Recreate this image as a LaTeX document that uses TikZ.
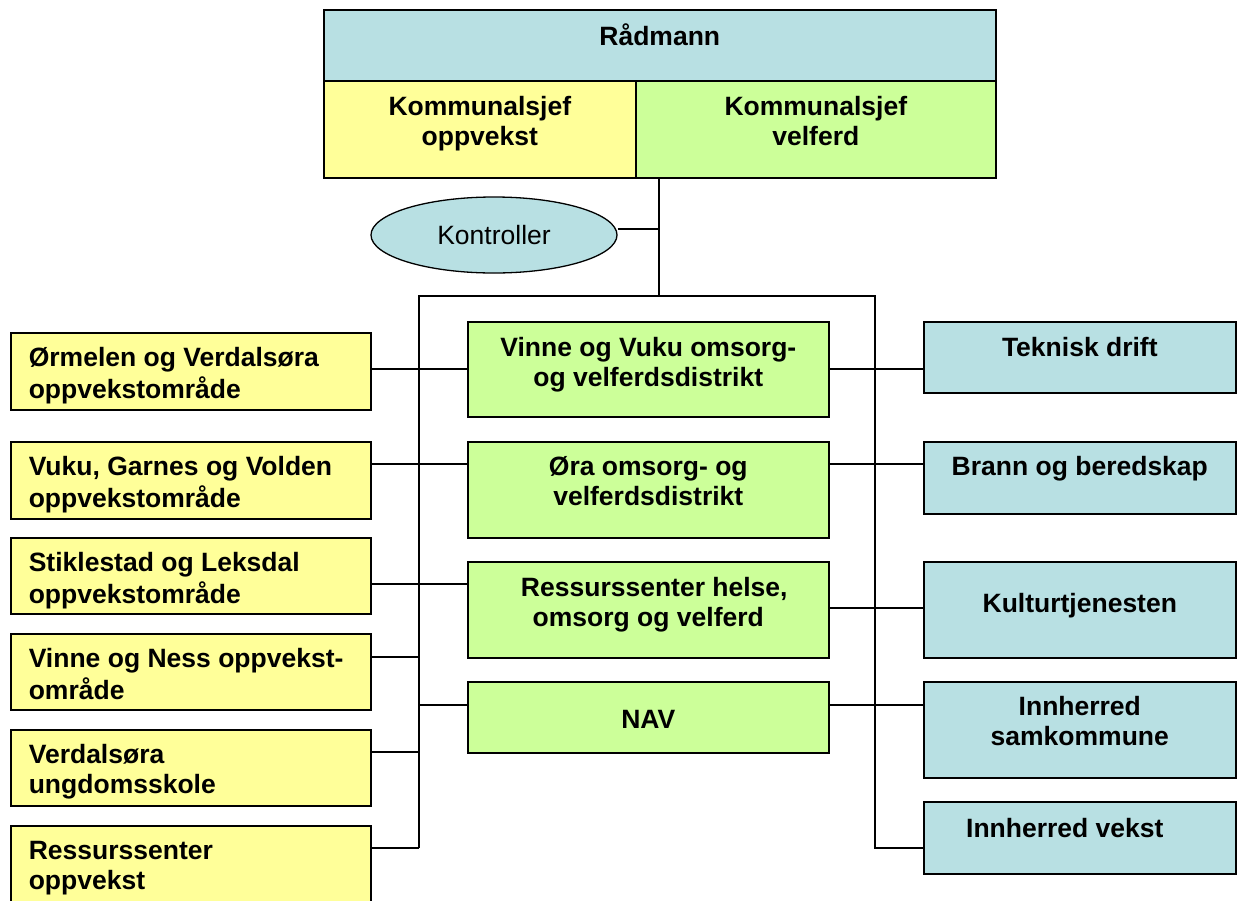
\documentclass[tikz,border=0pt]{standalone}
\usepackage{fontspec}
\setmainfont{Liberation Sans}
\usetikzlibrary{shapes.geometric}
\definecolor{cblue}{RGB}{184,224,227}
\definecolor{cyellow}{RGB}{255,255,153}
\definecolor{cgreen}{RGB}{204,255,153}
\newcommand{\cbx}[4]{\parbox[t][#1pt][t]{#2pt}{\vspace*{#3pt}\centering\strut #4\par}}
\newcommand{\lbx}[4]{\parbox[t][#1pt][t]{#2pt}{\vspace*{#3pt}\raggedright\leftskip=18pt\strut #4\par}}
\tikzset{
  box/.style={draw, line width=1.6pt, inner sep=0pt, anchor=north west, font=\fontsize{26.5}{30}\selectfont\bfseries},
  conn/.style={line width=1.3pt},
}
\begin{document}
\begin{tikzpicture}[x=1pt,y=-1pt]
\useasboundingbox (0,0) rectangle (1237,900);
% top
\node[box, fill=cblue] (rad) at (323,9) {\cbx{71}{672}{14}{Rådmann}};
\node[box, fill=cyellow] (ko) at (323,80) {\cbx{97}{312}{14}{Kommunalsjef\\oppvekst}};
\node[box, fill=cgreen] (kv) at (635,80) {\cbx{97}{360}{14}{Kommunalsjef\\velferd}};
\node[draw, line width=1.3pt, fill=cblue, ellipse, minimum width=246pt, minimum height=76pt, inner sep=0pt, font=\fontsize{26.5}{30}\selectfont] (kon) at (494,235) {Kontroller};
% left
\node[box, fill=cyellow] (l1) at (10,332) {\lbx{77}{360}{13}{Ørmelen og Verdalsøra\\oppvekstområde}};
\node[box, fill=cyellow] (l2) at (10,441) {\lbx{77}{360}{13}{Vuku, Garnes og Volden\\oppvekstområde}};
\node[box, fill=cyellow] (l3) at (10,537) {\lbx{76}{360}{13}{Stiklestad og Leksdal\\oppvekstområde}};
\node[box, fill=cyellow] (l4) at (10,633) {\lbx{76}{360}{13}{Vinne og Ness oppvekst-\\område}};
\node[box, fill=cyellow] (l5) at (10,729) {\lbx{76}{360}{13}{Verdalsøra\\ungdomsskole}};
\node[box, fill=cyellow] (l6) at (10,825) {\lbx{90}{360}{13}{Ressurssenter\\oppvekst}};
% middle
\node[box, fill=cgreen] (m1) at (467,321) {\cbx{95}{361}{14}{Vinne og Vuku omsorg-\\og velferdsdistrikt}};
\node[box, fill=cgreen] (m2) at (467,441) {\cbx{96}{361}{13}{Øra omsorg- og\\velferdsdistrikt}};
\node[box, fill=cgreen] (m3) at (467,561) {\cbx{96}{361}{14}{\hspace*{12pt}Ressurssenter helse,\\omsorg og velferd}};
\node[box, fill=cgreen] (m4) at (467,681) {\cbx{71}{361}{26}{NAV}};
% right
\node[box, fill=cblue] (r1) at (923,321) {\cbx{71}{312}{14}{Teknisk drift}};
\node[box, fill=cblue] (r2) at (923,441) {\cbx{72}{312}{13}{Brann og beredskap}};
\node[box, fill=cblue] (r3) at (923,561) {\cbx{96}{312}{30}{Kulturtjenesten}};
\node[box, fill=cblue] (r4) at (923,681) {\cbx{96}{312}{13}{Innherred\\samkommune}};
\node[box, fill=cblue] (r5) at (923,801) {\cbx{72}{312}{15}{Innherred vekst\hspace*{30pt}}};
% connectors
\coordinate (j) at (659,296);
\coordinate (bl) at (419,296);
\coordinate (br) at (875,296);
\draw[conn] (j |- kv.south) -- (j);
\draw[conn] (kon.east |- 0,229) -- (659,229);
\draw[conn] (bl |- 0,848) -- (bl) -- (br) -- (br |- 0,848) -- (r5.west |- 0,848);
\draw[conn] (l1.east |- 0,369) -- (m1.west |- 0,369);
\draw[conn] (l2.east |- 0,464) -- (m2.west |- 0,464);
\draw[conn] (l3.east |- 0,584) -- (m3.west |- 0,584);
\draw[conn] (l4.east |- 0,657) -- (bl |- 0,657);
\draw[conn] (l5.east |- 0,752) -- (bl |- 0,752);
\draw[conn] (l6.east |- 0,848) -- (bl |- 0,848);
\draw[conn] (bl |- 0,705) -- (m4.west |- 0,705);
\draw[conn] (m1.east |- 0,369) -- (r1.west |- 0,369);
\draw[conn] (m2.east |- 0,464) -- (r2.west |- 0,464);
\draw[conn] (m3.east |- 0,608) -- (r3.west |- 0,608);
\draw[conn] (m4.east |- 0,705) -- (r4.west |- 0,705);
\end{tikzpicture}
\end{document}
